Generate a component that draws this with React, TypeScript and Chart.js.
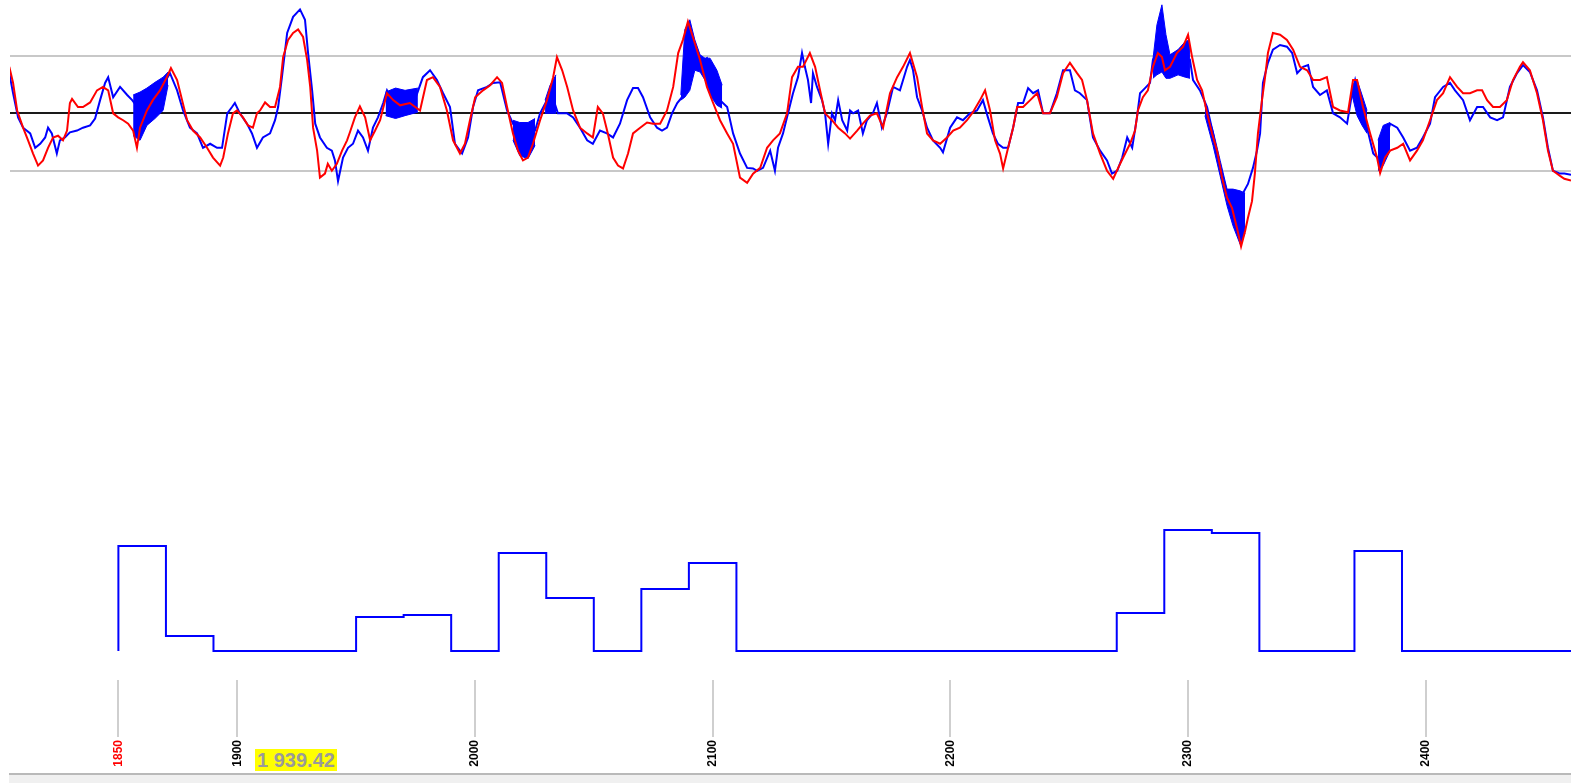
import React, { useEffect, useRef } from "react";
import { Chart, registerables } from "chart.js";

Chart.register(...registerables);

// Horizontal range shown and the labelled ticks along the bottom
const xMin = 1804.4;
const xMax = 2461.1;
const tickYears = [1850, 1900, 2000, 2100, 2200, 2300, 2400];
const markedYear = 1850;

// Oscillator guide levels (upper / zero / lower)
const guideLevels = [-100, 0, 100];

// Fast oscillator (red), [x, value]
const fastLine: [number, number][] = [
  [1804.1, 81], [1805.7, 53], [1807.4, 5], [1809.9, -25], [1812.0, -47], [1814.1, -70], [1816.2, -91], [1818.3, -82],
  [1820.4, -60], [1822.5, -42], [1824.6, -39], [1826.7, -47], [1828.4, -30], [1829.6, 18], [1830.5, 25], [1833.0, 11],
  [1835.1, 11], [1838.1, 19], [1841.0, 40], [1843.5, 46], [1845.7, 40], [1847.8, 0], [1849.9, -7], [1852.0, -12],
  [1854.1, -18], [1856.2, -30], [1857.8, -60], [1859.1, -25], [1862.0, 5], [1864.5, 23], [1867.5, 40], [1870.4, 63],
  [1872.1, 79], [1874.7, 58], [1876.8, 23], [1878.9, -12], [1881.4, -30], [1884.4, -42], [1887.3, -60], [1889.8, -77],
  [1892.8, -91], [1894.1, -77], [1896.1, -35], [1898.2, 0], [1899.9, 5], [1902.4, -7], [1904.5, -21], [1906.6, -25],
  [1908.3, 0], [1909.6, 5], [1911.7, 19], [1913.8, 11], [1915.9, 11], [1918.0, 46], [1919.3, 98], [1921.4, 128],
  [1923.5, 140], [1925.6, 146], [1927.7, 133], [1929.4, 93], [1930.7, 46], [1931.9, -25], [1933.6, -65], [1934.8, -112],
  [1936.9, -105], [1938.1, -88], [1939.8, -100], [1941.9, -88], [1944.1, -65], [1946.2, -47], [1947.4, -33], [1949.5, -7],
  [1951.6, 12], [1953.8, -7], [1955.9, -47], [1958.0, -30], [1960.1, -12], [1963.0, 35], [1965.6, 23], [1968.5, 14],
  [1972.6, 18], [1976.9, 5], [1979.8, 58], [1982.3, 63], [1985.3, 46], [1988.2, 5], [1990.8, -47], [1993.7, -70],
  [1995.8, -53], [1997.9, -12], [2000.1, 28], [2003.4, 40], [2006.4, 49], [2009.3, 63], [2011.4, 53], [2013.5, 11],
  [2016.0, -35], [2018.1, -65], [2020.2, -82], [2022.3, -77], [2024.4, -53], [2027.4, -12], [2030.3, 23], [2032.9, 63],
  [2034.5, 98], [2036.7, 75], [2038.8, 46], [2041.3, 5], [2044.2, -25], [2047.2, -35], [2049.6, -42], [2051.7, 11],
  [2053.8, 0], [2055.9, -35], [2058.1, -77], [2060.2, -91], [2062.3, -96], [2064.4, -70], [2066.5, -35], [2069.5, -25],
  [2072.4, -16], [2074.9, -18], [2077.9, -18], [2080.8, 5], [2083.4, 46], [2085.5, 105], [2087.5, 128], [2089.6, 160],
  [2091.7, 133], [2094.7, 93], [2097.6, 46], [2100.2, 18], [2103.1, -12], [2106.1, -35], [2108.6, -53], [2111.5, -112],
  [2114.5, -121], [2117.0, -105], [2120.0, -95], [2122.9, -60], [2125.4, -47], [2128.3, -35], [2131.3, 0], [2133.4, 63],
  [2135.9, 81], [2138.0, 81], [2140.9, 105], [2143.1, 81], [2145.2, 40], [2147.3, 0], [2150.2, -12], [2152.8, -25],
  [2155.7, -35], [2157.8, -44], [2160.8, -30], [2163.2, -18], [2166.2, -4], [2169.1, 0], [2171.7, -25], [2174.6, 35],
  [2177.6, 63], [2180.1, 81], [2183.0, 105], [2186.0, 63], [2188.1, 11], [2190.2, -35], [2192.7, -47], [2195.7, -53],
  [2198.6, -42], [2201.2, -30], [2204.0, -25], [2207.0, -12], [2209.5, 2], [2212.5, 23], [2214.6, 40], [2216.7, 5],
  [2218.8, -47], [2220.9, -70], [2222.2, -96], [2224.3, -60], [2226.4, -25], [2228.1, 11], [2230.6, 11], [2233.6, 23],
  [2236.5, 35], [2239.0, 0], [2241.9, 0], [2244.8, 28], [2247.4, 70], [2250.3, 88], [2253.3, 70], [2255.4, 58],
  [2257.5, 23], [2260.0, -35], [2263.0, -70], [2265.9, -100], [2268.5, -114], [2270.6, -95], [2272.7, -77], [2275.6, -53],
  [2277.7, -30], [2278.9, 5], [2281.0, 28], [2283.1, 40], [2285.2, 81], [2287.3, 105], [2289.0, 98], [2290.3, 75],
  [2292.4, 81], [2295.3, 105], [2297.9, 116], [2300.0, 137], [2301.7, 98], [2303.8, 58], [2305.9, 40], [2308.0, 0],
  [2310.1, -35], [2312.2, -65], [2314.3, -112], [2316.4, -147], [2318.5, -165], [2320.6, -200], [2322.3, -232], [2324.0, -205],
  [2325.2, -182], [2326.9, -153], [2328.1, -105], [2329.4, -35], [2331.1, 23], [2332.4, 63], [2333.6, 105], [2335.7, 140],
  [2338.7, 137], [2341.6, 128], [2344.2, 111], [2347.1, 81], [2350.1, 75], [2352.6, 58], [2355.5, 58], [2358.4, 63],
  [2361.0, 11], [2363.9, 5], [2367.3, 2], [2369.4, 58], [2371.1, 58], [2373.6, 11], [2376.6, -35], [2379.5, -77],
  [2380.8, -104], [2382.9, -77], [2385.0, -65], [2388.0, -60], [2390.5, -53], [2393.4, -82], [2396.3, -65], [2398.8, -47],
  [2401.8, -12], [2404.7, 23], [2407.3, 35], [2410.2, 63], [2413.2, 46], [2415.7, 35], [2418.6, 35], [2421.6, 40],
  [2423.7, 40], [2425.8, 23], [2428.3, 11], [2431.2, 11], [2434.1, 23], [2436.7, 58], [2439.6, 81], [2440.9, 89],
  [2443.8, 75], [2446.8, 35], [2449.3, -12], [2451.4, -65], [2453.5, -100], [2456.5, -109], [2458.3, -114], [2461.1, -117],
];

// Slow oscillator (blue), [x, value]
const slowLine: [number, number][] = [
  [1804.0, 72], [1805.7, 35], [1807.8, -7], [1809.9, -25], [1812.9, -35], [1815.0, -60], [1817.1, -53], [1819.2, -42],
  [1820.4, -25], [1822.0, -35], [1824.1, -70], [1825.4, -47], [1827.5, -42], [1829.6, -33], [1832.6, -30], [1835.1, -25],
  [1838.1, -21], [1840.2, -9], [1842.3, 23], [1844.4, 53], [1845.7, 63], [1847.8, 28], [1850.7, 46], [1853.7, 32],
  [1855.8, 23], [1859.1, 5], [1863.3, 14], [1867.5, 40], [1871.7, 70], [1874.7, 40], [1877.2, 5], [1880.1, -25],
  [1883.1, -35], [1885.6, -60], [1888.6, -53], [1891.5, -60], [1893.6, -60], [1895.8, 0], [1897.8, 11], [1899.0, 18],
  [1901.1, 0], [1904.1, -18], [1906.2, -35], [1908.3, -60], [1910.8, -42], [1913.8, -35], [1915.9, -12], [1917.2, 11],
  [1918.8, 63], [1921.0, 140], [1923.5, 168], [1926.4, 181], [1928.5, 163], [1929.8, 105], [1931.5, 40], [1932.8, -18],
  [1934.8, -42], [1937.7, -60], [1939.8, -65], [1941.1, -82], [1942.4, -118], [1944.5, -77], [1946.6, -60], [1948.7, -53],
  [1950.8, -30], [1952.9, -42], [1955.0, -65], [1957.1, -25], [1959.2, -7], [1961.4, 18], [1963.0, 40], [1966.4, 14],
  [1970.6, 18], [1974.7, 23], [1978.1, 63], [1981.1, 75], [1984.0, 58], [1986.6, 35], [1989.5, 11], [1991.6, -53],
  [1994.6, -70], [1997.1, -42], [1999.2, 11], [2001.3, 40], [2005.1, 46], [2007.6, 53], [2010.6, 54], [2013.5, 5],
  [2016.0, -18], [2021.0, -47], [2025.3, -30], [2027.4, 0], [2030.3, 23], [2032.4, 32], [2034.9, 0], [2038.8, 0],
  [2041.3, -7], [2044.2, -25], [2047.2, -47], [2049.6, -53], [2052.6, -30], [2055.5, -35], [2058.1, -42], [2061.0, -18],
  [2064.0, 23], [2066.5, 44], [2068.6, 44], [2070.7, 28], [2073.7, -7], [2076.6, -25], [2078.7, -30], [2080.8, -25],
  [2082.9, 0], [2085.1, 18], [2087.1, 28], [2089.6, 93], [2092.5, 93], [2094.7, 88], [2097.6, 96], [2100.2, 58],
  [2103.1, 23], [2106.1, 11], [2108.6, -35], [2111.5, -70], [2114.5, -95], [2117.0, -96], [2118.7, -100], [2121.2, -95],
  [2124.2, -65], [2126.2, -100], [2127.5, -60], [2129.6, -35], [2131.7, 0], [2133.8, 35], [2135.9, 63], [2137.6, 105],
  [2138.8, 81], [2140.1, 58], [2141.4, 18], [2142.2, 70], [2143.9, 46], [2146.0, 23], [2147.3, 0], [2148.6, -53],
  [2150.2, 0], [2151.5, -12], [2152.8, 23], [2154.5, -12], [2156.6, -30], [2157.8, 5], [2159.1, 0], [2161.2, 5],
  [2163.2, -35], [2164.9, -12], [2167.4, 0], [2169.1, 18], [2171.2, -25], [2173.3, 0], [2175.9, 46], [2178.8, 40],
  [2181.8, 81], [2183.0, 93], [2184.3, 75], [2186.0, 28], [2188.1, 5], [2190.2, -25], [2192.7, -47], [2195.7, -60],
  [2196.9, -68], [2199.9, -25], [2202.8, -7], [2205.3, -12], [2208.2, 0], [2211.2, 5], [2213.7, 23], [2215.8, -7],
  [2217.9, -35], [2220.0, -53], [2222.2, -60], [2224.3, -60], [2226.4, -25], [2228.5, 18], [2230.6, 18], [2232.7, 44],
  [2234.8, 35], [2236.9, 40], [2239.0, 0], [2241.9, 0], [2244.8, 35], [2247.4, 75], [2250.3, 75], [2252.4, 40],
  [2254.5, 35], [2257.5, 23], [2260.0, -42], [2263.0, -65], [2265.9, -82], [2268.0, -105], [2270.2, -100], [2272.3, -77],
  [2274.4, -42], [2276.5, -60], [2278.5, -7], [2279.8, 35], [2281.9, 44], [2284.0, 53], [2285.2, 93], [2288.2, 119],
  [2292.4, 84], [2296.6, 84], [2300.8, 93], [2302.1, 58], [2305.0, 40], [2308.0, 11], [2310.5, -35], [2313.5, -95],
  [2316.4, -139], [2318.9, -135], [2321.9, -140], [2323.1, -139], [2325.2, -123], [2327.3, -95], [2329.0, -65], [2330.3, -35],
  [2331.5, 53], [2333.6, 88], [2335.7, 111], [2338.7, 119], [2341.6, 116], [2343.8, 105], [2345.9, 70], [2348.4, 81],
  [2350.5, 84], [2352.6, 46], [2355.5, 32], [2358.4, 40], [2361.0, 0], [2363.9, -7], [2366.9, -18], [2369.0, 35],
  [2370.3, 58], [2372.4, 23], [2375.3, -25], [2377.9, -70], [2380.8, -82], [2385.0, -18], [2388.0, -25], [2390.5, -42],
  [2393.4, -65], [2396.3, -60], [2398.8, -42], [2401.8, -18], [2403.9, 28], [2407.3, 46], [2410.2, 53], [2412.3, 40],
  [2415.7, 23], [2418.6, -12], [2421.6, 11], [2424.1, 11], [2427.1, -7], [2430.0, -12], [2432.5, -7], [2435.4, 46],
  [2438.4, 70], [2440.9, 84], [2443.8, 72], [2446.8, 40], [2449.3, -7], [2451.4, -60], [2453.5, -100], [2456.5, -105],
  [2458.3, -105], [2461.1, -107],
];

// Stretches where the slow line flips rapidly: [x, high, low]
const choppy1: [number, number, number][] = [[1856.2, 32, -39], [1859.1, 37, -47], [1862.0, 44, -21], [1865.4, 54, -9], [1868.8, 63, 5], [1870.9, 72, 49]];
const choppy2: [number, number, number][] = [[1962.4, 37, -4], [1966.6, 44, -9], [1970.6, 40, -4], [1976.0, 44, 2]];
const choppy3: [number, number, number][] = [[2016.0, -12, -47], [2018.9, -16, -74], [2022.3, -16, -79], [2025.3, -9, -56]];
const choppy4: [number, number, number][] = [[2029.5, 23, 0], [2031.6, 49, 0], [2034.1, 67, 0]];
const choppy5: [number, number, number][] = [[2086.6, 32, 23], [2088.3, 146, 28], [2090.4, 163, 40], [2092.5, 128, 75], [2094.7, 102, 72], [2096.8, 96, 58], [2098.9, 96, 32], [2101.8, 75, 14], [2104.0, 49, 9]];
const choppy6: [number, number, number][] = [[2285.2, 93, 61], [2286.9, 154, 67], [2289.0, 189, 72], [2290.7, 137, 61], [2292.4, 102, 61], [2295.8, 111, 67], [2298.8, 125, 63], [2300.8, 128, 61]];
const choppy7: [number, number, number][] = [[2307.1, 14, -4], [2310.5, -30, -56], [2313.5, -82, -109], [2316.4, -132, -161], [2318.9, -132, -196], [2321.9, -135, -228], [2324.0, -139, -209]];
const choppy8: [number, number, number][] = [[2369.0, 49, 32], [2371.1, 58, -4], [2373.2, 32, -21], [2375.3, 5, -35]];
const choppy9: [number, number, number][] = [[2379.9, -47, -100], [2382.1, -21, -91], [2385.0, -16, -65]];
const choppyStretches = [choppy1, choppy2, choppy3, choppy4, choppy5, choppy6, choppy7, choppy8, choppy9];

// Lower panel: step histogram, 20-unit bins
const binStarts = [
  1850, 1870, 1890, 1910, 1930, 1950, 1970, 1990, 2010, 2030, 2050, 2070, 2090, 2110, 2130, 2150,
  2170, 2190, 2210, 2230, 2250, 2270, 2290, 2310, 2330, 2350, 2370, 2390, 2410, 2430, 2450,
];
const binValues = [
  105, 15, 0, 0, 0, 34, 36, 0, 98, 53, 0, 62, 88, 0, 0, 0,
  0, 0, 0, 0, 0, 38, 121, 118, 0, 0, 100, 0, 0, 0, 0,
];

const BLUE = "#0000ff";
const RED = "#ff0000";

export default function App() {
  const canvasRef = useRef<HTMLCanvasElement | null>(null);

  useEffect(() => {
    const canvas = canvasRef.current;
    if (!canvas) return;

    const toPoints = (rows: [number, number][]) => rows.map(([x, y]) => ({ x, y }));

    const histogram = [{ x: binStarts[0], y: 0 }]
      .concat(binStarts.map((x, i) => ({ x, y: binValues[i] })))
      .concat([{ x: xMax, y: 0 }]);

    const stretchSets: any[] = [];
    choppyStretches.forEach((rows) => {
      stretchSets.push({
        data: rows.map(([x, hi]) => ({ x, y: hi })),
        yAxisID: "yTop",
        borderColor: BLUE,
        backgroundColor: BLUE,
        borderWidth: 1,
        fill: "+1",
        order: 2,
      });
      stretchSets.push({
        data: rows.map(([x, , lo]) => ({ x, y: lo })),
        yAxisID: "yTop",
        borderColor: BLUE,
        borderWidth: 1,
        fill: false,
        order: 2,
      });
    });

    const chart = new Chart(canvas, {
      type: "line",
      data: {
        datasets: [
          {
            data: toPoints(fastLine),
            yAxisID: "yTop",
            borderColor: RED,
            borderWidth: 2,
            fill: false,
            order: 0,
          },
          {
            data: toPoints(slowLine),
            yAxisID: "yTop",
            borderColor: BLUE,
            borderWidth: 2,
            fill: false,
            order: 1,
          },
          {
            data: histogram,
            yAxisID: "yBot",
            borderColor: BLUE,
            borderWidth: 2,
            stepped: true,
            fill: false,
            order: 0,
          },
          ...stretchSets,
        ],
      },
      options: {
        responsive: false,
        animation: false,
        elements: { point: { radius: 0, hitRadius: 0 }, line: { tension: 0 } },
        layout: { padding: { left: 10, right: 0, top: 0, bottom: 0 } },
        plugins: { legend: { display: false }, tooltip: { enabled: false } },
        scales: {
          x: {
            type: "linear",
            min: xMin,
            max: xMax,
            afterBuildTicks: (scale: any) => {
              scale.ticks = tickYears.map((value) => ({ value }));
            },
            afterFit: (scale: any) => {
              scale.height = 93;
              scale.paddingLeft = 0;
              scale.paddingRight = 0;
            },
            border: { display: false },
            grid: {
              drawOnChartArea: false,
              drawTicks: true,
              tickLength: 57,
              color: "#cfcfcf",
              lineWidth: 2,
            },
            ticks: {
              autoSkip: false,
              minRotation: 90,
              maxRotation: 90,
              padding: 3,
              color: (ctx: any) => (ctx.tick && ctx.tick.value === markedYear ? RED : "#000000"),
              font: {
                family: "'Liberation Sans', Arial, sans-serif",
                size: 12,
                weight: "bold",
              },
              callback: (value: any) => String(value),
            },
          },
          yTop: {
            type: "linear",
            position: "left",
            min: -987,
            max: 197.4,
            afterBuildTicks: (scale: any) => {
              scale.ticks = guideLevels.map((value) => ({ value }));
            },
            border: { display: false },
            grid: {
              drawTicks: false,
              lineWidth: 2,
              color: (ctx: any) => (ctx.tick && ctx.tick.value === 0 ? "#1a1a1a" : "#c8c8c8"),
            },
            ticks: { display: false },
          },
          yBot: {
            type: "linear",
            position: "left",
            display: false,
            min: -29,
            max: 651,
          },
        },
      },
    } as any);

    return () => chart.destroy();
  }, []);

  return (
    <div
      style={{
        position: "fixed",
        left: 0,
        top: 0,
        width: 1571,
        height: 783,
        background: "#ffffff",
        overflow: "hidden",
      }}
    >
      <canvas
        ref={canvasRef}
        width={1571}
        height={773}
        style={{ position: "absolute", left: 0, top: 0, width: 1571, height: 773, display: "block" }}
      />
      <div
        style={{
          position: "absolute",
          left: 255,
          top: 749,
          width: 82,
          height: 22,
          background: "#ffff00",
          color: "#9a9a9a",
          fontFamily: "'Liberation Sans', Arial, sans-serif",
          fontWeight: "bold",
          fontSize: 20,
          lineHeight: "23px",
          textAlign: "center",
          whiteSpace: "nowrap",
          overflow: "hidden",
        }}
      >
        1 939.42
      </div>
      <div
        style={{
          position: "absolute",
          left: 9,
          top: 773,
          right: 0,
          height: 10,
          background: "#f0f0f0",
          borderTop: "2px solid #b9b9b9",
          boxSizing: "border-box",
        }}
      />
    </div>
  );
}
